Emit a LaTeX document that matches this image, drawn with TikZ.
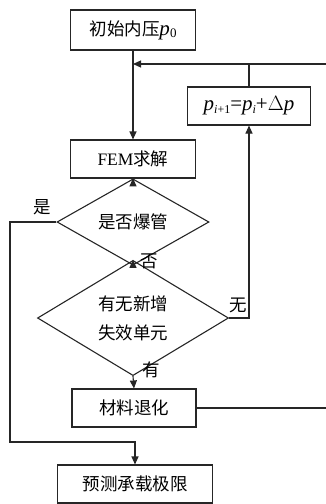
\documentclass[tikz,border=0pt]{standalone}
\usepackage{fontspec}
\newfontfamily\cjk{Noto Sans CJK SC}
\newfontfamily\tms{Liberation Serif}
\usetikzlibrary{shapes.geometric,arrows.meta}
\newcommand{\pv}{{\tms\itshape p}}
\begin{document}
\begin{tikzpicture}[x=1pt,y=-1pt,
  line width=1.1pt, draw={black!85},
  box/.style={draw, rectangle, inner sep=0pt, font=\cjk\fontsize{17.5}{20}\selectfont},
  dia/.style={draw, diamond, inner sep=0pt, font=\cjk\fontsize{17.5}{20}\selectfont, align=center},
  lbl/.style={font=\cjk\fontsize{17.5}{20}\selectfont, inner sep=0pt},
  arr/.style={-{Triangle[length=8pt,width=7pt]}}]
\useasboundingbox (0,0) rectangle (325,504);
\node[box, minimum width=125pt, minimum height=40pt] (b1) at (133,30) {初始内压{\tms\fontsize{21}{20}\selectfont\itshape p}\raisebox{-0.2ex}{\tms\fontsize{13}{15}\selectfont 0}};
\node[box, minimum width=123pt, minimum height=38pt, font=\tms\fontsize{21}{20}\selectfont] (bp) at (249,106) {\itshape p\raisebox{-0.25ex}{\fontsize{12}{14}\selectfont\itshape i\upshape+1}\upshape=\itshape p\raisebox{-0.25ex}{\fontsize{12}{14}\selectfont i}\upshape+$\Delta$\itshape p};
\node[box, minimum width=125pt, minimum height=38pt] (fem) at (133,159) {{\tms FEM}求解};
\node[dia, minimum width=152pt, minimum height=46pt] (d1) at (133,222) {是否爆管};
\node[dia, minimum width=191pt, minimum height=81pt, font=\cjk\fontsize{17.5}{29}\selectfont] (d2) at (133,318) {有无新增\\失效单元};
\node[box, minimum width=124pt, minimum height=38pt] (mat) at (134,408) {材料退化};
\node[box, minimum width=155pt, minimum height=38pt] (pred) at (135,484) {预测承载极限};
\node[lbl] (yes) at (42,207) {是};
\node[lbl] (no) at (149,261) {否};
\node[lbl] (none) at (238,305) {无};
\node[lbl] (have) at (151,370) {有};
\coordinate (loopA) at (b1.south |- 0,64);
\coordinate (rtop) at (330,64);
\coordinate (rbot) at (330,408);
\coordinate (lc) at (10,222);
\coordinate (lb) at (10,442);
\draw[arr] (b1.south) -- (fem.north);
\draw[arr] (mat.east) -- (rbot) -- (rtop) -- (loopA);
\draw (bp.north) -- (bp.north |- rtop);
\draw[arr] (d2.east) -| (bp.south);
\draw[arr] (fem.south) -- (d1.north);
\draw[arr] (d1.south) -- (d2.north);
\draw[arr] (d2.south) -- (mat.north);
\draw[arr] (d1.west) -- (lc) -- (lb) -| (pred.north);
\end{tikzpicture}
\end{document}
